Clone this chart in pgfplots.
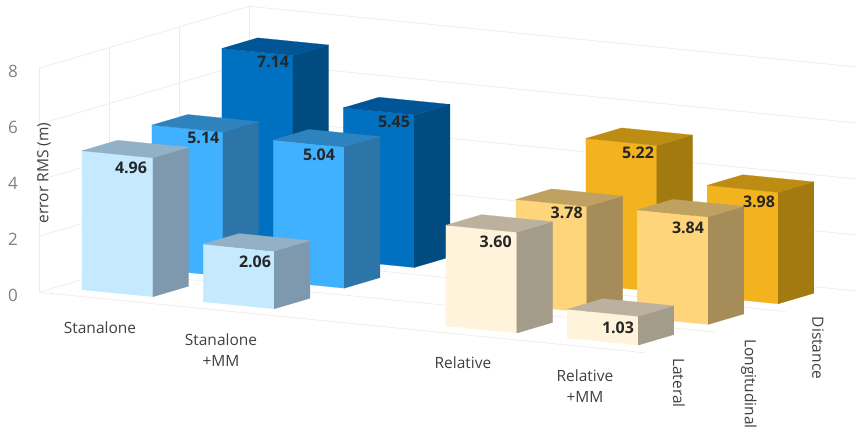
\documentclass[border=0pt]{standalone}
\usepackage{fontspec}
\setmainfont{Open Sans}
\usepackage{pgfplots}
\pgfplotsset{compat=1.18}
\definecolor{gridc}{HTML}{ECECEC}
\definecolor{floorc}{HTML}{F1ECE7}
\definecolor{aF}{HTML}{C5E9FF}\definecolor{aT}{HTML}{92B0C6}\definecolor{aS}{HTML}{7E98AE}
\definecolor{bF}{HTML}{40B1FF}\definecolor{bT}{HTML}{2E83BE}\definecolor{bS}{HTML}{2D75A8}
\definecolor{cF}{HTML}{0070C0}\definecolor{cT}{HTML}{005597}\definecolor{cS}{HTML}{004C80}
\definecolor{dF}{HTML}{FFF3DC}\definecolor{dT}{HTML}{BCB19F}\definecolor{dS}{HTML}{A39C8B}
\definecolor{eF}{HTML}{FFD57C}\definecolor{eT}{HTML}{BFA162}\definecolor{eS}{HTML}{A58C58}
\definecolor{fF}{HTML}{F3B31F}\definecolor{fT}{HTML}{BD8C12}\definecolor{fS}{HTML}{A27A10}
% #1,#2 = category extent, #3,#4 = depth extent, #5 = value, #6 = colour prefix
\newcommand{\BarBox}[6]{%
  \addplot3[fill=#6F,draw=#6F,line width=0.2pt,no marks] coordinates {(#1,#3,0) (#2,#3,0) (#2,#3,#5) (#1,#3,#5)} -- cycle;
  \addplot3[fill=#6S,draw=#6S,line width=0.2pt,no marks] coordinates {(#2,#3,0) (#2,#4,0) (#2,#4,#5) (#2,#3,#5)} -- cycle;
  \addplot3[fill=#6T,draw=#6T,line width=0.2pt,no marks] coordinates {(#1,#3,#5) (#2,#3,#5) (#2,#4,#5) (#1,#4,#5)} -- cycle;
}
\newcommand{\GridL}[2]{\addplot3[color=#1,line width=0.7pt,no marks] coordinates {#2};}
\newcommand{\lab}{\fontsize{15.5}{21}\selectfont}
\begin{document}
\begin{tikzpicture}
\begin{axis}[
  at={(0,0)},anchor=origin,
  x={(121.3pt,-12.1pt)},y={(70pt,20.67pt)},z={(0pt,28pt)},
  xmin=0,xmax=5,ymin=0,ymax=3,zmin=0,zmax=8,
  clip=false,
  axis line style={draw=none},
  tick style={draw=none},
  xtick=\empty,ytick=\empty,
  ztick={0,2,4,6,8},
  ztick pos=left,
  zticklabel pos=left,
  /pgf/number format/assume math mode=true,
  z tick label style={font=\fontsize{17}{18}\selectfont,text=black!50,anchor=center,xshift=-26pt,yshift=-3.3pt},
]
% walls and floor
\GridL{gridc}{(0,0,8) (0,3,8) (5,3,8)}
\GridL{gridc}{(0,0,6) (0,3,6) (5,3,6)}
\GridL{gridc}{(0,0,4) (0,3,4) (5,3,4)}
\GridL{gridc}{(0,0,2) (0,3,2) (5,3,2)}
\GridL{gridc}{(0,0,0) (0,3,0) (5,3,0)}
\GridL{gridc}{(0,0,0) (0,0,8)}
\GridL{gridc}{(0,1,0) (0,1,8)}
\GridL{gridc}{(0,2,0) (0,2,8)}
\GridL{gridc}{(0,3,0) (0,3,8)}
\GridL{floorc}{(0,0,0) (5,0,0)}
\GridL{floorc}{(0,1,0) (5,1,0)}
\GridL{floorc}{(0,2,0) (5,2,0)}
% Distance
\BarBox{0.21}{0.795}{2.25}{2.76}{7.14}{c}
\BarBox{1.21}{1.795}{2.25}{2.76}{5.45}{c}
\BarBox{3.21}{3.795}{2.25}{2.76}{5.22}{f}
\BarBox{4.21}{4.795}{2.25}{2.76}{3.98}{f}
% Longitudinal
\BarBox{0.21}{0.795}{1.25}{1.76}{5.14}{b}
\BarBox{1.21}{1.795}{1.25}{1.76}{5.04}{b}
\BarBox{3.21}{3.795}{1.25}{1.76}{3.78}{e}
\BarBox{4.21}{4.795}{1.25}{1.76}{3.84}{e}
% Lateral
\BarBox{0.21}{0.795}{0.25}{0.76}{4.96}{a}
\BarBox{1.21}{1.795}{0.25}{0.76}{2.06}{a}
\BarBox{3.21}{3.795}{0.25}{0.76}{3.60}{d}
\BarBox{4.21}{4.795}{0.25}{0.76}{1.03}{d}
\end{axis}
\begin{scope}[x=1pt,y=-1pt,shift={(-39pt,292.3pt)}]
\tikzset{val/.style={font=\fontsize{16}{18}\selectfont\bfseries,text=black!85,inner sep=0pt}}
\node[val] at (273,62) {7.14};
\node[val] at (394,122) {5.45};
\node[val] at (638,153) {5.22};
\node[val] at (759,202) {3.98};
\node[val] at (203.3,138) {5.14};
\node[val] at (319,155) {5.04};
\node[val] at (566.7,213) {3.78};
\node[val] at (688,228) {3.84};
\node[val] at (131,168) {4.96};
\node[val] at (255,262) {2.06};
\node[val] at (495.7,242) {3.60};
\node[val] at (618,328) {1.03};
\tikzset{txt/.style={font=\lab,text=black!75,inner sep=0pt}}
\node[txt,rotate=90] at (44,173) {error RMS (m)};
\node[txt] at (100,328) {Stanalone};
\node[txt,align=center] at (221,350) {Stanalone\\+MM};
\node[txt] at (463,363) {Relative};
\node[txt,align=center] at (585,386) {Relative\\+MM};
\node[txt,rotate=-90] at (679,383) {Lateral};
\node[txt,rotate=-90] at (749,384) {Longitudinal};
\node[txt,rotate=-90] at (818,348) {Distance};
\end{scope}
\pgfresetboundingbox
\path[use as bounding box] (-39pt,-146.7pt) rectangle (826pt,292.3pt);
\end{tikzpicture}
\end{document}
